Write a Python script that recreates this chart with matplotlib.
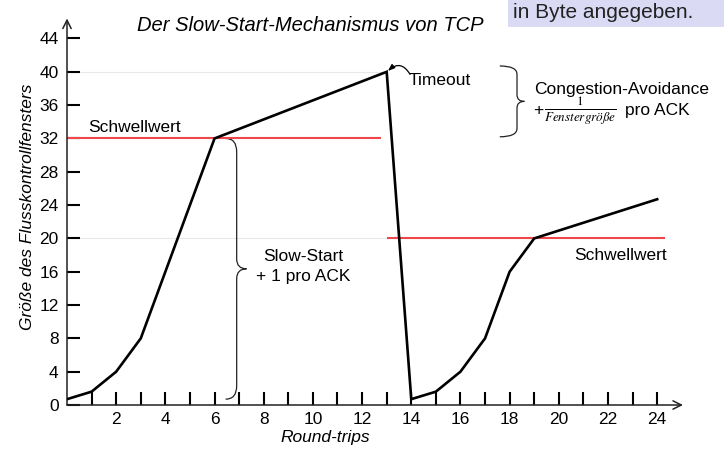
import matplotlib
matplotlib.use('Agg')
import matplotlib.pyplot as plt
from matplotlib.path import Path
from matplotlib.patches import PathPatch, Rectangle

plt.rcParams['font.family'] = ['Liberation Sans', 'DejaVu Sans']

# window size over round-trips
rounds = [0, 1, 2, 3, 4, 5, 6, 13, 14, 15, 16, 17, 18, 19, 24]
window = [0.7, 1.6, 4, 8, 16, 24, 32, 40, 0.7, 1.6, 4, 8, 16, 20, 24.7]

# thresholds (Schwellwert) and where their red lines run
thresh_values = [32, 20]
thresh_starts = [0, 13]
thresh_ends = [12.75, 24.3]

x_major = list(range(2, 25, 2))
x_minor = list(range(1, 25, 2))
y_major = list(range(0, 45, 4))

fig = plt.figure(figsize=(7.24, 4.51), dpi=100)
ax = fig.add_axes([67 / 724, 46 / 451, 616 / 724, 386.5 / 451])
ax.set_xlim(0, 25.05)
ax.set_ylim(0, 46.4)
for s in ax.spines.values():
    s.set_visible(False)

# axes drawn as arrows
arr = dict(arrowstyle='->,head_length=0.6,head_width=0.3', lw=1.1, color='#222222',
           shrinkA=0, shrinkB=0)
ax.annotate('', xy=(1, 0), xytext=(0, 0), xycoords='axes fraction', arrowprops=arr)
ax.annotate('', xy=(0, 1), xytext=(0, 0), xycoords='axes fraction', arrowprops=arr)

ax.set_xticks(x_major)
ax.set_xticks(x_minor, minor=True)
ax.set_yticks(y_major)
ax.tick_params(which='both', direction='in', length=9.4, width=1.5, color='black',
               labelsize=12.5, pad=5)
ax.tick_params(axis='y', pad=6)

# faint guide lines
ax.hlines([40, 20], 0, 13, color='#e8e8e8', lw=0.8, zorder=1)

# thresholds
ax.hlines(thresh_values, thresh_starts, thresh_ends, color='#f04848', lw=1.5,
          zorder=2, clip_on=False)

ax.plot(rounds, window, color='black', lw=1.9, zorder=3, solid_joinstyle='miter')


def brace(ax, x_end, x_spine, x_tip, y0, y1, r, rt):
    ym = (y0 + y1) / 2
    verts = [(x_end, y1), (x_spine, y1), (x_spine, y1 - r), (x_spine, ym + rt),
             (x_spine, ym), (x_tip, ym), (x_spine, ym), (x_spine, ym - rt),
             (x_spine, y0 + r), (x_spine, y0), (x_end, y0)]
    codes = [Path.MOVETO, Path.CURVE3, Path.CURVE3, Path.LINETO, Path.CURVE3,
             Path.CURVE3, Path.CURVE3, Path.CURVE3, Path.LINETO, Path.CURVE3,
             Path.CURVE3]
    ax.add_patch(PathPatch(Path(verts, codes), fc='none', ec='#222222', lw=0.9,
                           clip_on=False))


brace(ax, 6.45, 6.9, 7.3, 0.7, 32, 1.6, 1.2)
brace(ax, 17.6, 18.3, 18.6, 32.2, 40.7, 1.0, 0.8)

ax.annotate('', xy=(13.05, 40.1), xytext=(13.95, 39.7),
            arrowprops=dict(arrowstyle='-|>,head_length=0.4,head_width=0.15',
                            connectionstyle='arc3,rad=0.6', lw=0.9, color='black',
                            shrinkA=0, shrinkB=0))

ax.text(9.88, 45.6, 'Der Slow-Start-Mechanismus von TCP', fontsize=14.5,
        style='italic', ha='center', va='center')
ax.text(0.85, 33.3, 'Schwellwert', fontsize=12.5, ha='left', va='center')
ax.text(22.5, 17.9, 'Schwellwert', fontsize=12.5, ha='center', va='center')
ax.text(13.9, 39.0, 'Timeout', fontsize=12.5, ha='left', va='center')
ax.text(9.6, 17.8, 'Slow-Start', fontsize=12.5, ha='center', va='center')
ax.text(9.6, 15.4, '+ 1 pro ACK', fontsize=12.5, ha='center', va='center')
ax.text(19.0, 37.9, 'Congestion-Avoidance', fontsize=12.5, ha='left', va='center')
ax.text(18.95, 35.4, '+', fontsize=12.5, ha='left', va='center')
ax.text(19.4, 35.3, r'$\frac{1}{Fenstergröße}$', fontsize=13.5, ha='left',
        va='center', math_fontfamily='stix')
ax.text(22.7, 35.4, 'pro ACK', fontsize=12.5, ha='left', va='center')

ax.set_xlabel('Round-trips', fontsize=12.5, style='italic')
ax.xaxis.set_label_coords(0.419, -0.085)
ax.xaxis.label.set_va('center')
ax.set_ylabel('Größe des Flusskontrollfensters', fontsize=12.5, style='italic')
ax.yaxis.set_label_coords(-0.064, 0.512)
ax.yaxis.label.set_va('center')

# note box at top right
fig.patches.append(Rectangle((508 / 724, 1 - 27 / 451), 216 / 724, 27 / 451,
                             transform=fig.transFigure, fc='#dadaf4', ec='none'))
fig.text(513 / 724, 1 - 12 / 451, 'in Byte angegeben.', fontsize=15, va='center',
         color='#222222')

fig.savefig('out.png', dpi=100)
